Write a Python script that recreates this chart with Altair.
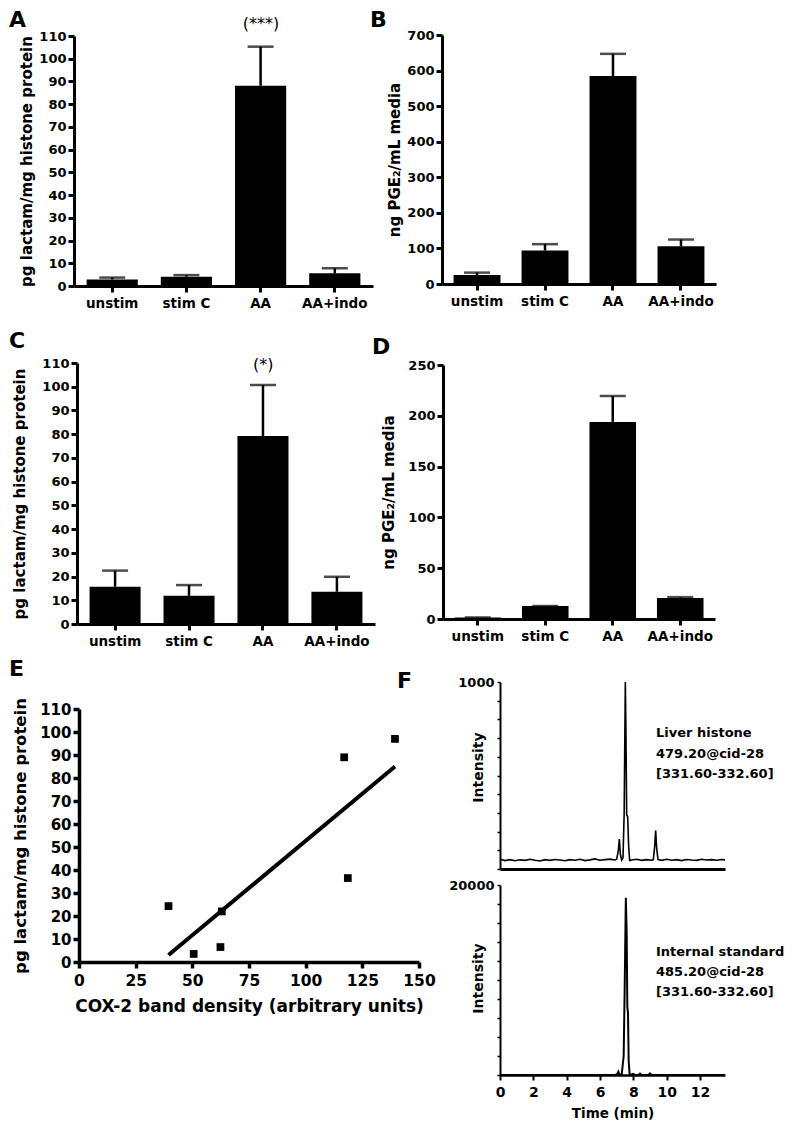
import altair as alt
import pandas as pd

W, H = 784, 1118
FONT = "DejaVu Sans"

# ---------------- data ----------------
cats = ["unstim", "stim C", "AA", "AA+indo"]

a_mean = [2.9, 4.1, 88.1, 5.6]
a_upper = [3.7, 4.8, 105.3, 7.8]
a_sig = ["", "", "(***)", ""]

b_mean = [25, 94, 585, 106]
b_upper = [32, 112, 647, 125]
b_sig = ["", "", "", ""]

c_mean = [15.7, 11.9, 79.2, 13.6]
c_upper = [22.5, 16.4, 100.7, 19.9]
c_sig = ["", "", "(*)", ""]

d_mean = [1.5, 12.8, 194, 20.7]
d_upper = [1.5, 12.8, 219.5, 21.5]
d_sig = ["", "", "", ""]

lactam_ticks = [0, 10, 20, 30, 40, 50, 60, 70, 80, 90, 100, 110]
b_ticks = [0, 100, 200, 300, 400, 500, 600, 700]
d_ticks = [0, 50, 100, 150, 200, 250]

lactam_title = "pg lactam/mg histone protein"
pge_title = "ng PGE\u2082/mL media"

e_cox = [39.5, 50.6, 62.4, 63.0, 117.0, 118.6, 139.4]
e_lactam = [24.3, 3.5, 6.5, 22.0, 89.0, 36.5, 97.0]
cox_ticks = [0, 25, 50, 75, 100, 125, 150]
cox_title = "COX-2 band density (arbitrary units)"

f1_time = [0.0, 0.3, 0.6, 0.9, 1.2, 1.5, 1.8, 2.1, 2.4, 2.7,
           3.0, 3.3, 3.6, 3.9, 4.2, 4.5, 4.8, 5.1, 5.4, 5.7,
           6.0, 6.3, 6.6, 6.9, 7.0, 7.1, 7.16, 7.22, 7.3, 7.38,
           7.45, 7.52, 7.56, 7.6, 7.66, 7.72, 7.78, 7.9, 8.2, 8.5,
           8.8, 9.1, 9.2, 9.28, 9.34, 9.4, 9.48, 9.7, 10.0, 10.3,
           10.6, 10.9, 11.2, 11.5, 11.8, 12.1, 12.4, 12.7, 13.0, 13.3,
           13.5]
f1_int = [52, 45, 50, 44, 49, 46, 52, 47, 43, 50,
          46, 51, 48, 44, 50, 47, 52, 45, 49, 54,
          47, 50, 53, 48, 52, 100, 160, 80, 48, 60,
          300, 1000, 700, 290, 280, 120, 45, 48, 52, 46,
          50, 47, 50, 120, 205, 110, 50, 46, 52, 47,
          50, 45, 51, 48, 46, 52, 48, 50, 47, 51,
          49]

f2_time = [0.0, 1.0, 2.0, 3.0, 4.0, 5.0, 6.0, 6.9, 7.05, 7.1,
           7.16, 7.3, 7.42, 7.48, 7.55, 7.6, 7.64, 7.68, 7.72, 7.78,
           8.0, 8.1, 8.3, 8.4, 8.5, 8.9, 9.0, 9.1, 9.5, 10.0,
           11.0, 12.0, 13.0, 13.5]
f2_int = [0, 0, 0, 0, 0, 0, 0, 0, 150, 350,
          80, 0, 2000, 9000, 18650, 15000, 7200, 6500, 1500, 0,
          120, 0, 0, 150, 0, 0, 170, 0, 0, 0,
          0, 0, 0, 0]

time_ticks = [0, 2, 4, 6, 8, 10, 12]
f1_ticks = [0, 100, 200, 300, 400, 500, 600, 700, 800, 900, 1000]
f2_ticks = [0, 2000, 4000, 6000, 8000, 10000, 12000, 14000, 16000, 18000, 20000]

f1_label = ["Liver histone", "479.20@cid-28", "[331.60-332.60]"]
f2_label = ["Internal standard", "485.20@cid-28", "[331.60-332.60]"]
panel_letters = ["A", "B", "C", "D", "E", "F"]


# ---------------- helpers ----------------
def bar_panel(mean, upper, sig, xr, yr, ydom, yticks, ytitle, tpad, sig_dy):
    df = pd.DataFrame({"cat": cats, "mean": mean, "upper": upper, "sig": sig})

    def xs():
        return alt.Scale(domain=cats, range=xr, paddingInner=0.31, paddingOuter=0.17)

    def ys():
        return alt.Scale(domain=ydom, range=yr, nice=False, zero=True)

    xaxis = alt.Axis(orient="bottom", offset=yr[0] - H, title=None, labelAngle=0,
                     labelFontSize=13.5, labelPadding=4, tickSize=6, tickWidth=3,
                     domainWidth=3, labelOverlap=False)
    yaxis = alt.Axis(orient="left", offset=-xr[0], values=yticks, title=ytitle,
                     titleFontSize=15, titlePadding=tpad, labelFontSize=13,
                     labelPadding=2, tickSize=6, tickWidth=3, domainWidth=3,
                     labelFlush=False, labelOverlap=False)
    base = alt.Chart(df)
    bars = base.mark_bar(color="black").encode(
        x=alt.X("cat:N", sort=cats, scale=xs(), axis=xaxis),
        y=alt.Y("mean:Q", scale=ys(), axis=yaxis))
    err = base.mark_rule(color="black", strokeWidth=2.5).encode(
        x=alt.X("cat:N", sort=cats, scale=xs(), axis=None),
        y=alt.Y("mean:Q", scale=ys(), axis=None), y2="upper:Q")
    cap = base.mark_tick(color="black", size=26, thickness=2.5).encode(
        x=alt.X("cat:N", sort=cats, scale=xs(), axis=None),
        y=alt.Y("upper:Q", scale=ys(), axis=None))
    txt = base.mark_text(font=FONT, fontSize=16, color="black", baseline="middle",
                         dy=sig_dy).encode(
        x=alt.X("cat:N", sort=cats, scale=xs(), axis=None),
        y=alt.Y("upper:Q", scale=ys(), axis=None), text="sig:N")
    return [bars, err, cap, txt]


def letter(t, x, y):
    return alt.Chart(alt.Data(values=[{"t": t}])).mark_text(
        font=FONT, fontWeight="bold", fontSize=22, align="left",
        baseline="alphabetic", color="black"
    ).encode(text="t:N", x=alt.value(x), y=alt.value(y))


layers = []
layers += bar_panel(a_mean, a_upper, a_sig, [66, 365], [278, 28], [0, 110],
                    lactam_ticks, lactam_title, 4, -23)
layers += bar_panel(b_mean, b_upper, b_sig, [434, 708], [276, 27], [0, 700],
                    b_ticks, pge_title, 4, -20)
layers += bar_panel(c_mean, c_upper, c_sig, [69, 367], [616, 355], [0, 110],
                    lactam_ticks, lactam_title, 14, -20)
layers += bar_panel(d_mean, d_upper, d_sig, [435, 707], [611, 357], [0, 250],
                    d_ticks, pge_title, 11, -20)

# ---- E: scatter with linear regression ----
df_e = pd.DataFrame({"cox": e_cox, "lactam": e_lactam})


def exs():
    return alt.Scale(domain=[0, 150], range=[71, 411], nice=False, zero=False)


def eys():
    return alt.Scale(domain=[0, 110], range=[954, 701], nice=False)


e_fit = alt.Chart(df_e).transform_regression("cox", "lactam").mark_line(
    color="black", strokeWidth=4).encode(
    x=alt.X("cox:Q", scale=exs(), axis=None),
    y=alt.Y("lactam:Q", scale=eys(), axis=None))
e_pts = alt.Chart(df_e).mark_square(size=60, color="black", opacity=1).encode(
    x=alt.X("cox:Q", scale=exs(), axis=alt.Axis(
        orient="bottom", offset=954 - H, values=cox_ticks, title=cox_title,
        titleFontSize=17, titlePadding=10, labelFontSize=15.5, labelPadding=5,
        tickSize=6, tickWidth=3.5, domainWidth=3.5, labelFlush=False, labelOverlap=False)),
    y=alt.Y("lactam:Q", scale=eys(), axis=alt.Axis(
        orient="left", offset=-71, values=lactam_ticks, title=lactam_title,
        titleFontSize=16.5, titlePadding=11, labelFontSize=15, labelPadding=2,
        tickSize=6, tickWidth=3.5, domainWidth=3.5, labelFlush=False, labelOverlap=False)))
layers += [e_fit, e_pts]

# ---- F: chromatograms ----
def fxs():
    return alt.Scale(domain=[0, 13.5], range=[492, 717], nice=False, zero=False)


df_f1 = pd.DataFrame({"time": f1_time, "intensity": f1_int})
f1 = alt.Chart(df_f1).mark_line(color="black", strokeWidth=1.6).encode(
    x=alt.X("time:Q", scale=fxs(), axis=alt.Axis(
        orient="bottom", offset=861 - H, title=None, labels=False, ticks=False,
        domainWidth=3)),
    y=alt.Y("intensity:Q", scale=alt.Scale(domain=[0, 1000], range=[861, 674], nice=False),
            axis=alt.Axis(
        orient="left", offset=-492, values=f1_ticks,
        labelExpr="datum.value == 1000 ? '1000' : ''",
        tickSize=3, tickWidth=1.5, domainWidth=2, labelFontSize=13, labelPadding=3,
        labelFlush=False, labelOverlap=False,
        title="Intensity", titleFontSize=14, titleX=-22, titleY=759,
        titleBaseline="middle")))
layers.append(f1)

df_f2 = pd.DataFrame({"time": f2_time, "intensity": f2_int})
f2 = alt.Chart(df_f2).mark_line(color="black", strokeWidth=2).encode(
    x=alt.X("time:Q", scale=fxs(), axis=alt.Axis(
        orient="bottom", offset=1067 - H, values=time_ticks, title="Time (min)",
        titleFontSize=13.5, titlePadding=7, labelFontSize=14, labelPadding=5,
        tickSize=5, tickWidth=2, domainWidth=2.5, labelFlush=False, labelOverlap=False)),
    y=alt.Y("intensity:Q", scale=alt.Scale(domain=[0, 20000], range=[1067, 877], nice=False),
            axis=alt.Axis(
        orient="left", offset=-492, values=f2_ticks,
        labelExpr="datum.value == 20000 ? '20000' : ''",
        tickSize=3, tickWidth=1.5, domainWidth=2, labelFontSize=13, labelPadding=3,
        labelFlush=False, labelOverlap=False,
        title="Intensity", titleFontSize=14, titleX=-22, titleY=970,
        titleBaseline="middle")))
layers.append(f2)

f1_txt = alt.Chart(alt.Data(values=[{}])).mark_text(
    text=f1_label, font=FONT, fontWeight="bold", fontSize=13, align="left",
    baseline="middle", lineHeight=20.5, color="black"
).encode(x=alt.value(648), y=alt.value(725))
f2_txt = alt.Chart(alt.Data(values=[{}])).mark_text(
    text=f2_label, font=FONT, fontWeight="bold", fontSize=13, align="left",
    baseline="middle", lineHeight=20, color="black"
).encode(x=alt.value(648), y=alt.value(944))
layers += [f1_txt, f2_txt]

letter_pos = [(1, 19), (362, 19), (1, 340), (364, 346), (1, 668), (389, 680)]
for t, (lx, ly) in zip(panel_letters, letter_pos):
    layers.append(letter(t, lx, ly))

chart = alt.layer(*layers).resolve_scale(
    x="independent", y="independent"
).resolve_axis(
    x="independent", y="independent"
).properties(
    width=W, height=H, padding=0,
    autosize=alt.AutoSizeParams(type="none")
).configure_view(stroke=None).configure_axis(
    grid=False, domainColor="black", tickColor="black", labelColor="black",
    titleColor="black", labelFont=FONT, titleFont=FONT,
    labelFontWeight="bold", titleFontWeight="bold"
)

chart.save("out.html", embed_options={"renderer": "svg", "actions": False})
